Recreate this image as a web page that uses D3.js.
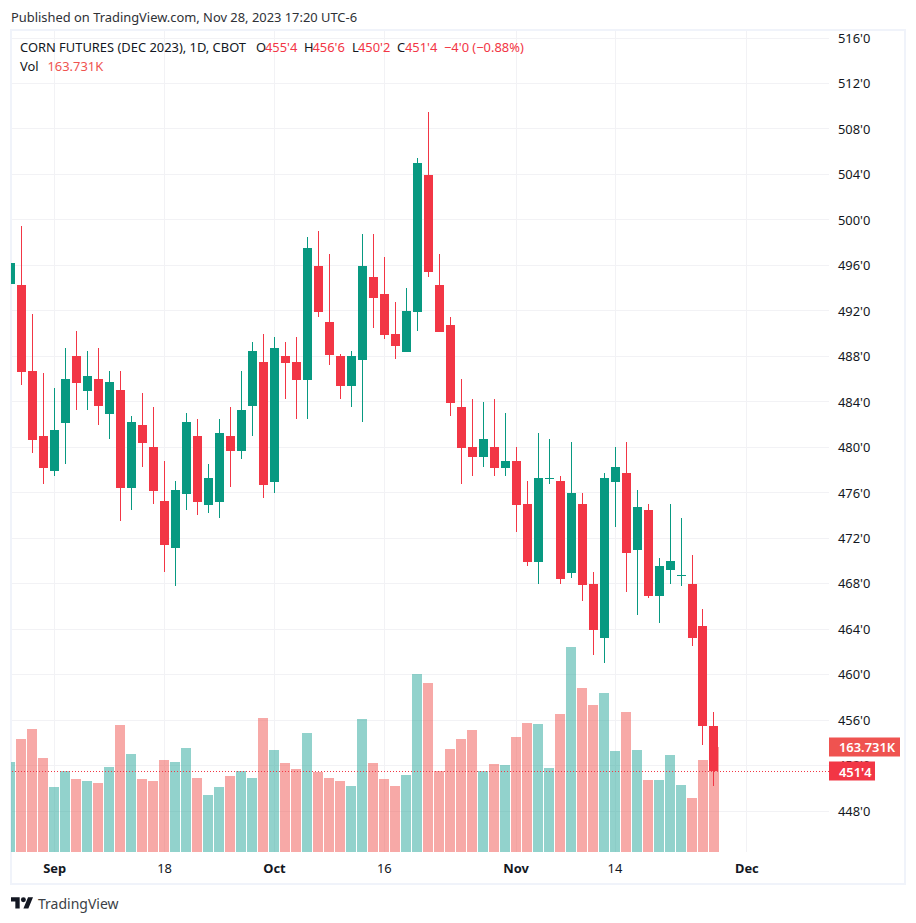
<!DOCTYPE html>
<html>
<head>
<meta charset="utf-8">
<script src="https://cdn.jsdelivr.net/npm/d3@7"></script>
<style>
  html, body { margin: 0; background: #fff; }
  svg { display: block; }
  text { font-family: "Noto Sans", sans-serif; }
</style>
</head>
<body>
<script>
// Colors
var up = "#089981";
var down = "#F23645";
var volUp = "#26a69a";
var volDown = "#ef5350";
var gridColor = "#F2F2F5";
var frameColor = "#F0F3FA";
var textColor = "#131722";
var fontSize = "12.9px";

// Candle data, one entry per session starting Aug 28 2023
var opens = [494.4, 494.28, 486.72, 481.0, 477.92, 482.15, 488.04, 484.96, 486.02, 482.94,
  485.05, 476.43, 481.97, 480.04, 475.29, 471.15, 475.9, 481.0, 474.93, 475.2,
  481.0, 479.69, 483.65, 487.52, 476.96, 488.04, 487.52, 485.93, 495.96, 491.0,
  488.04, 485.41, 487.69, 494.99, 493.5, 489.98, 488.4, 491.91, 503.96, 494.29,
  490.77, 483.56, 480.04, 479.16, 480.04, 478.19, 478.8, 475.02, 469.92, 477.2,
  477.05, 468.95, 475.02, 467.99, 463.24, 476.96, 477.75, 470.98, 474.5, 466.93,
  469.22, 468.72, 467.99, 464.29, 455.5];
var highs = [496.5, 499.47, 491.73, 486.54, 485.22, 488.74, 490.24, 488.48, 488.74, 486.72,
  486.72, 482.76, 484.78, 483.55, 478.8, 477.05, 483.03, 482.5, 478.54, 482.5,
  483.55, 486.73, 489.28, 489.98, 489.71, 489.28, 489.72, 498.51, 499.04, 497.02,
  488.22, 488.48, 498.77, 498.77, 496.75, 492.79, 494.03, 505.46, 509.5, 497.02,
  491.47, 486.02, 484.26, 484.0, 484.26, 483.03, 480.04, 477.05, 481.27, 480.74,
  477.49, 480.48, 475.99, 469.04, 477.75, 480.04, 480.48, 476.25, 475.02, 470.27,
  475.02, 473.79, 470.54, 465.79, 456.75];
var lows = [494.25, 485.49, 479.51, 476.78, 477.48, 478.54, 483.29, 483.29, 481.97, 480.74,
  473.53, 474.49, 478.28, 475.02, 469.04, 467.81, 474.49, 474.05, 474.23, 473.79,
  476.52, 478.99, 481.01, 475.55, 476.0, 484.26, 482.5, 482.5, 491.47, 487.25,
  484.26, 483.56, 482.24, 490.51, 489.54, 487.78, 488.4, 490.24, 494.99, 490.16,
  482.77, 476.78, 477.49, 478.28, 477.49, 477.49, 472.56, 469.57, 467.99, 476.78,
  467.99, 468.51, 466.49, 461.74, 461.04, 473.0, 467.28, 465.26, 466.76, 464.56,
  467.99, 467.81, 462.53, 453.83, 450.25];
var closes = [496.25, 486.63, 480.65, 478.19, 481.53, 486.02, 485.66, 486.28, 483.64, 485.75,
  476.43, 482.23, 480.39, 476.17, 471.42, 476.25, 482.23, 475.2, 477.31, 481.27,
  479.69, 483.3, 488.48, 476.7, 488.75, 487.43, 485.93, 497.54, 491.91, 488.13,
  485.41, 488.04, 495.96, 493.15, 489.89, 488.92, 492.0, 505.02, 495.43, 490.16,
  483.91, 479.95, 479.16, 480.74, 478.19, 478.8, 474.94, 469.92, 477.31, 477.31,
  468.43, 475.99, 467.9, 463.94, 477.31, 478.28, 470.71, 474.76, 466.93, 469.57,
  470.01, 468.78, 463.24, 455.5, 451.5];

// Volume in thousands
var volumes = [140.3, 176.2, 191.8, 146.6, 101.4, 126.3, 113.8, 110.7, 107.6, 132.5,
  198.0, 152.8, 113.8, 110.7, 143.5, 140.3, 162.2, 115.4, 88.9, 101.4,
  118.5, 126.3, 115.4, 209.0, 159.1, 138.8, 129.4, 185.6, 124.8, 115.4,
  110.7, 102.9, 207.4, 138.8, 113.8, 102.9, 120.1, 277.6, 263.5, 126.3,
  160.6, 176.2, 190.3, 126.3, 137.2, 135.7, 179.3, 201.2, 199.6, 131.0,
  215.2, 319.7, 255.7, 229.2, 247.9, 157.5, 218.3, 159.1, 112.3, 112.3,
  151.3, 104.5, 84.2, 143.5, 163.731];

// Axis ticks
var priceTicks = [448, 452, 456, 460, 464, 468, 472, 476, 480, 484, 488, 492, 496, 500, 504, 508, 512, 516];
var timeTicks = [4, 14, 24, 34, 46, 55, 67];
var timeLabels = ["Sep", "18", "Oct", "16", "Nov", "14", "Dec"];
var monthLabels = ["Sep", "Oct", "Nov", "Dec"];

var lastClose = 451.5;
var lastVolume = 163.731;

var width = 916, height = 923;
var plotLeft = 12, plotRight = 829, plotTop = 31, plotBottom = 852;

var svg = d3.select("body").append("svg")
  .attr("width", width)
  .attr("height", height);

svg.append("rect").attr("width", width).attr("height", height).attr("fill", "#fff");

svg.append("clipPath").attr("id", "plot-clip")
  .append("rect")
  .attr("x", 11).attr("y", plotTop)
  .attr("width", plotRight - 11).attr("height", plotBottom - plotTop);

var x = d3.scaleLinear().domain([1, 64]).range([21.8, 713.98]);
var y = d3.scaleLinear().domain([448, 516]).range([811.3, 38]);
var yVol = d3.scaleLinear().domain([0, lastVolume]).range([plotBottom, 747]);

// Frame
svg.append("rect")
  .attr("x", 11).attr("y", 30)
  .attr("width", 894).attr("height", 854)
  .attr("fill", "none")
  .attr("stroke", frameColor)
  .attr("stroke-width", 2);

var plot = svg.append("g").attr("clip-path", "url(#plot-clip)");

// Grid
plot.selectAll(".hgrid").data(priceTicks).enter().append("rect")
  .attr("x", plotLeft).attr("width", plotRight - plotLeft)
  .attr("y", function (d) { return Math.floor(y(d)); })
  .attr("height", 1)
  .attr("fill", gridColor);

plot.selectAll(".vgrid").data(timeTicks).enter().append("rect")
  .attr("x", function (d) { return Math.floor(x(d)); })
  .attr("width", 1)
  .attr("y", plotTop).attr("height", plotBottom - plotTop)
  .attr("fill", gridColor);

var sessions = d3.range(opens.length);
function isUp(i) { return closes[i] >= opens[i]; }

// Volume bars
plot.selectAll(".vol").data(sessions).enter().append("rect")
  .attr("x", function (i) { return Math.round(x(i) - 5.4); })
  .attr("width", 10)
  .attr("y", function (i) { return Math.round(yVol(volumes[i])); })
  .attr("height", function (i) { return plotBottom - Math.round(yVol(volumes[i])); })
  .attr("fill", function (i) { return isUp(i) ? volUp : volDown; })
  .attr("fill-opacity", 0.5);

// Wicks
plot.selectAll(".wick").data(sessions).enter().append("rect")
  .attr("x", function (i) { return Math.floor(x(i)); })
  .attr("width", 1)
  .attr("y", function (i) { return Math.round(y(highs[i])); })
  .attr("height", function (i) { return Math.round(y(lows[i])) - Math.round(y(highs[i])); })
  .attr("fill", function (i) { return isUp(i) ? up : down; });

// Bodies
plot.selectAll(".body").data(sessions).enter().append("rect")
  .attr("x", function (i) { return Math.floor(x(i)) - 4; })
  .attr("width", 9)
  .attr("y", function (i) { return Math.round(y(Math.max(opens[i], closes[i]))); })
  .attr("height", function (i) {
    var h = Math.round(y(Math.min(opens[i], closes[i]))) - Math.round(y(Math.max(opens[i], closes[i])));
    return Math.max(h, 1);
  })
  .attr("fill", function (i) { return isUp(i) ? up : down; });

// Last price line
plot.append("line")
  .attr("x1", plotLeft).attr("x2", plotRight)
  .attr("y1", Math.floor(y(lastClose)) + 0.5).attr("y2", Math.floor(y(lastClose)) + 0.5)
  .attr("stroke", down)
  .attr("stroke-width", 1)
  .attr("stroke-dasharray", "1,2");

// Price axis
var priceAxis = svg.append("g")
  .attr("transform", "translate(838,0)")
  .call(d3.axisRight(y).tickValues(priceTicks).tickSize(0).tickPadding(0)
    .tickFormat(function (d) { return d + "'0"; }));
priceAxis.select(".domain").remove();
priceAxis.selectAll("text")
  .attr("fill", textColor)
  .style("font-family", '"Noto Sans", sans-serif')
  .style("font-size", fontSize);

// Time axis
var timeAxis = svg.append("g")
  .attr("transform", "translate(-0.6,864)")
  .call(d3.axisBottom(x).tickValues(timeTicks).tickSize(0).tickPadding(0)
    .tickFormat(function (d, i) { return timeLabels[i]; }));
timeAxis.select(".domain").remove();
timeAxis.selectAll("text")
  .attr("fill", textColor)
  .style("font-family", '"Noto Sans", sans-serif')
  .style("font-size", fontSize)
  .style("font-weight", function (d, i) { return monthLabels.indexOf(timeLabels[i]) >= 0 ? 700 : 400; });

// Last value tags
var tags = [
  { label: lastVolume + "K", yPos: yVol(lastVolume), w: 71, color: volDown },
  { label: "451'4", yPos: y(lastClose), w: 46, color: down }
];
tags.forEach(function (t) {
  svg.append("rect")
    .attr("x", plotRight).attr("width", t.w)
    .attr("y", Math.round(t.yPos) - 9.5).attr("height", 19)
    .attr("fill", t.color);
  svg.append("text")
    .attr("x", 839).attr("y", t.yPos + 0.5)
    .attr("dy", "0.35em")
    .attr("fill", "#fff")
    .style("font-size", fontSize)
    .style("font-weight", 600)
    .text(t.label);
});

// Header and legend text
svg.append("text").attr("x", 11).attr("y", 22)
  .attr("fill", "#2f3136").style("font-size", fontSize)
  .text("Published on TradingView.com, Nov 28, 2023 17:20 UTC-6");

var legendRow = [
  { s: "CORN FUTURES (DEC 2023), 1D, CBOT", x: 20, c: textColor },
  { s: "O", x: 256, c: textColor }, { s: "455'4", x: 265, c: down },
  { s: "H", x: 304, c: textColor }, { s: "456'6", x: 312.5, c: down },
  { s: "L", x: 352, c: textColor }, { s: "450'2", x: 358, c: down },
  { s: "C", x: 397, c: textColor }, { s: "451'4", x: 405, c: down },
  { s: "\u22124'0 (\u22120.88%)", x: 444, c: down }
];
svg.selectAll(".legend").data(legendRow).enter().append("text")
  .attr("x", function (d) { return d.x; })
  .attr("y", 52)
  .attr("fill", function (d) { return d.c; })
  .style("font-size", fontSize)
  .text(function (d) { return d.s; });

svg.append("text").attr("x", 20).attr("y", 71)
  .attr("fill", textColor).style("font-size", fontSize).text("Vol");
svg.append("text").attr("x", 47.5).attr("y", 71)
  .attr("fill", volDown).style("font-size", fontSize).text("163.731K");

// TradingView logo and name
var logo = svg.append("g").attr("transform", "translate(11,894.8) scale(0.62)").attr("fill", "#131722");
logo.append("path").attr("d", "M14 22H7V11H0V4h14v18zM28 22h-8l7.5-18h8L28 22z");
logo.append("circle").attr("cx", 20).attr("cy", 8).attr("r", 4);

svg.append("text").attr("x", 38).attr("y", 909)
  .attr("fill", "#3c3f46")
  .style("font-size", "14px")
  .text("TradingView");
</script>
</body>
</html>
